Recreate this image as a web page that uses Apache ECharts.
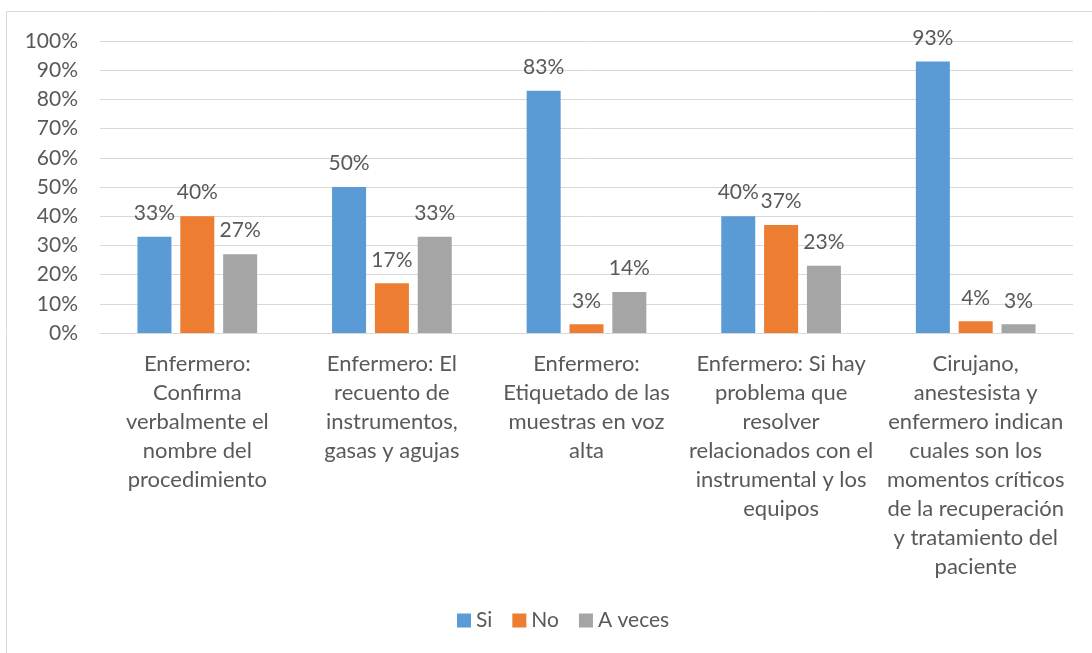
<!DOCTYPE html>
<html>
<head>
<meta charset="utf-8">
<script src="https://cdn.jsdelivr.net/npm/echarts@6/dist/echarts.min.js"></script>
<style>
html,body{margin:0;padding:0;background:#fff;}
#chart{width:1092px;height:653px;}
</style>
</head>
<body>
<div id="chart"></div>
<script>
const categories = [
  "Enfermero:\nConfirma\nverbalmente el\nnombre del\nprocedimiento",
  "Enfermero: El\nrecuento de\ninstrumentos,\ngasas y agujas",
  "Enfermero:\nEtiquetado de las\nmuestras en voz\nalta",
  "Enfermero: Si hay\nproblema que\nresolver\nrelacionados con el\ninstrumental y los\nequipos",
  "Cirujano,\nanestesista y\nenfermero indican\ncuales son los\nmomentos críticos\nde la recuperación\ny tratamiento del\npaciente"
];
const seriesNames = ["Si", "No", "A veces"];
const siValues = [33, 50, 83, 40, 93];
const noValues = [40, 17, 3, 37, 4];
const aVecesValues = [27, 33, 14, 23, 3];
const colors = ["#5b9bd5", "#ed7d31", "#a5a5a5"];

const FONT = "Lato, 'Open Sans', sans-serif";
const TXT = "#595959";

const chart = echarts.init(document.getElementById('chart'));
const mk = (name, data, color) => ({
  name, type: 'bar', data,
  barWidth: 34, barGap: '26%',
  itemStyle: { color },
  label: { show: true, position: 'top', distance: 13, formatter: '{c}%',
           color: TXT, fontSize: 21, fontFamily: FONT }
});
chart.setOption({
  animation: false,
  textStyle: { fontFamily: FONT },
  graphic: [{ type: 'rect', shape: { x: 6.5, y: 11.5, width: 1200, height: 800 },
              style: { fill: 'none', stroke: '#d9d9d9', lineWidth: 1 } }],
  legend: {
    bottom: 17, left: 452, itemWidth: 14, itemHeight: 14, itemGap: 20,
    icon: 'rect',
    textStyle: { color: TXT, fontSize: 21, fontFamily: FONT }
  },
  grid: { left: 100, right: 19, top: 41, bottom: 320, containLabel: false },
  xAxis: {
    type: 'category', data: categories,
    axisLine: { lineStyle: { color: '#d9d9d9' } },
    axisTick: { show: false },
    axisLabel: { color: TXT, fontSize: 22, fontFamily: FONT, lineHeight: 29, margin: 16, interval: 0 }
  },
  yAxis: {
    type: 'value', min: 0, max: 100, interval: 10,
    axisLabel: { formatter: '{value}%', color: TXT, fontSize: 21, fontFamily: FONT, margin: 22 },
    splitLine: { lineStyle: { color: '#d9d9d9' } },
    axisLine: { show: false }, axisTick: { show: false }
  },
  series: [
    mk(seriesNames[0], siValues, colors[0]),
    mk(seriesNames[1], noValues, colors[1]),
    mk(seriesNames[2], aVecesValues, colors[2])
  ]
});
</script>
</body>
</html>
